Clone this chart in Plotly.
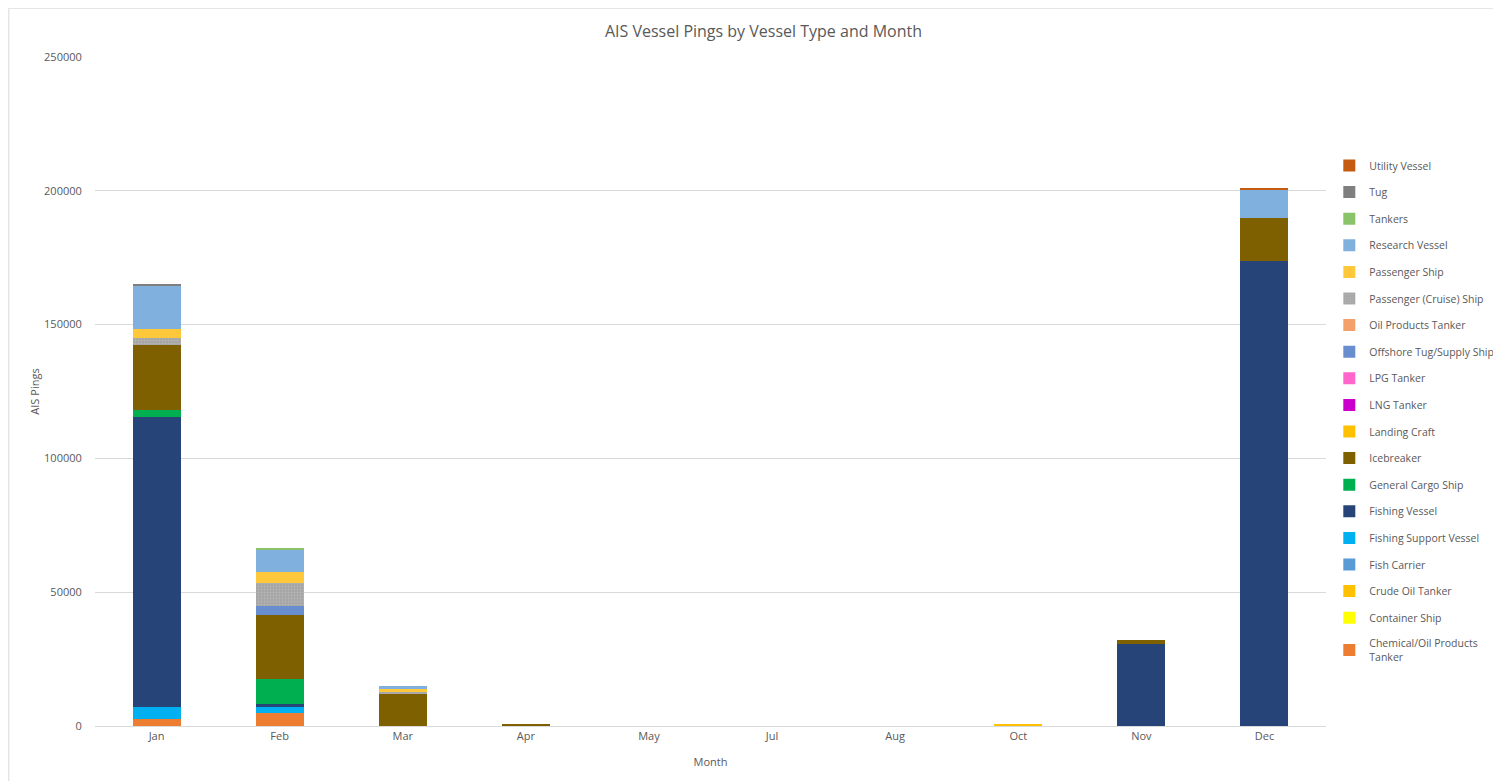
import plotly.graph_objects as go

months = ['Jan', 'Feb', 'Mar', 'Apr', 'May', 'Jul', 'Aug', 'Oct', 'Nov', 'Dec']

# stack order bottom -> top (legend shows it reversed, like Excel)
vessel_types = [
    'Chemical/Oil Products<br>Tanker', 'Container Ship', 'Crude Oil Tanker', 'Fish Carrier',
    'Fishing Support Vessel', 'Fishing Vessel', 'General Cargo Ship', 'Icebreaker',
    'Landing Craft', 'LNG Tanker', 'LPG Tanker', 'Offshore Tug/Supply Ship',
    'Oil Products Tanker', 'Passenger (Cruise) Ship', 'Passenger Ship', 'Research Vessel',
    'Tankers', 'Tug', 'Utility Vessel',
]
colors = [
    '#ED7D31', '#FFFF00', '#FFC000', '#5B9BD5',
    '#00B0F0', '#264478', '#00B050', '#7F6000',
    '#FFC000', '#CC00CC', '#FF66CC', '#698ED0',
    '#F4A06B', '#A5A5A5', '#FFC83A', '#7FB0DE',
    '#8BC36A', '#7F7F7F', '#C55A11',
]

#              Jan     Feb    Mar    Apr  May Jul Aug Oct  Nov    Dec
chemical   = [2500,   4860,  0,     0,   0,  0,  0,  0,   0,     0]
container  = [0,      0,     0,     0,   0,  0,  0,  0,   0,     0]
crude_oil  = [0,      0,     0,     0,   0,  0,  0,  800, 0,     0]
fish_carr  = [0,      0,     0,     0,   0,  0,  0,  0,   0,     0]
fish_supp  = [4700,   2240,  0,     0,   0,  0,  0,  0,   0,     0]
fishing    = [108150, 1120,  0,     0,   0,  0,  0,  0,   30760, 173880]
gen_cargo  = [2730,   9220,  0,     0,   0,  0,  0,  0,   0,     0]
icebreaker = [24180,  24180, 12220, 500, 0,  0,  0,  0,   1500,  15940]
landing    = [0,      0,     0,     0,   0,  0,  0,  0,   0,     0]
lng        = [0,      0,     0,     0,   0,  0,  0,  0,   0,     0]
lpg        = [0,      0,     0,     0,   0,  0,  0,  0,   0,     0]
offshore   = [0,      3110,  0,     0,   0,  0,  0,  0,   0,     0]
oil_prod   = [0,      0,     0,     0,   0,  0,  0,  0,   0,     0]
cruise     = [2730,   8600,  370,   0,   0,  0,  0,  0,   0,     0]
passenger  = [3360,   4230,  1120,  0,   0,  0,  0,  0,   0,     0]
research   = [16190,  8370,  1250,  0,   0,  0,  0,  0,   0,     10590]
tankers    = [0,      400,   0,     0,   0,  0,  0,  0,   0,     0]
tug        = [620,    0,     0,     0,   0,  0,  0,  0,   0,     0]
utility    = [0,      0,     0,     0,   0,  0,  0,  0,   0,     500]

series = [chemical, container, crude_oil, fish_carr, fish_supp, fishing, gen_cargo,
          icebreaker, landing, lng, lpg, offshore, oil_prod, cruise, passenger,
          research, tankers, tug, utility]

fig = go.Figure()
for i, (name, col, vals) in enumerate(zip(vessel_types, colors, series)):
    marker = dict(color=col, line=dict(width=0))
    if name == 'Passenger (Cruise) Ship':
        marker['pattern'] = dict(shape='.', fgcolor='#C8C8C8', size=3, solidity=0.3)
    # one group per trace so tracegroupgap spaces the legend like Excel
    fig.add_trace(go.Bar(x=months, y=vals, name=name, marker=marker,
                         legendgroup=name, legendrank=1000 - i))

txt = '#595959'
# page body has an 8px margin, so the figure is 8px smaller than the window
fig.update_layout(
    barmode='stack',
    bargap=0.61,
    width=1493, height=773,
    margin=dict(l=87, r=175, t=49, b=55, autoexpand=False),
    paper_bgcolor='white', plot_bgcolor='white',
    font=dict(family='Open Sans', size=11, color=txt),
    title=dict(text='AIS Vessel Pings by Vessel Type and Month', x=0.506, xanchor='center',
               y=0.970, yanchor='middle', font=dict(size=16, color=txt)),
    legend=dict(traceorder='grouped', xref='container', yref='container',
                x=0.885, xanchor='left', y=0.815, yanchor='top', maxheight=640,
                font=dict(size=10.5, color=txt), tracegroupgap=7.6, itemwidth=30),
    xaxis=dict(title=dict(text='Month', standoff=16, font=dict(size=11, color=txt)),
               showline=True, linecolor='#D9D9D9', ticks='', showgrid=False),
    yaxis=dict(title=dict(text='AIS Pings', standoff=2, font=dict(size=11, color=txt)),
               range=[0, 250000], dtick=50000, tickformat='d',
               showgrid=True, gridcolor='#D9D9D9', zeroline=False,
               ticks='outside', ticklen=10, tickcolor='white'),
    shapes=[dict(type='rect', xref='paper', yref='paper', x0=-0.07, x1=1.2, y0=-0.1, y1=1.073,
                 line=dict(color='#D9D9D9', width=1), fillcolor='rgba(0,0,0,0)', layer='below')],
)

fig.write_html('out.html')
